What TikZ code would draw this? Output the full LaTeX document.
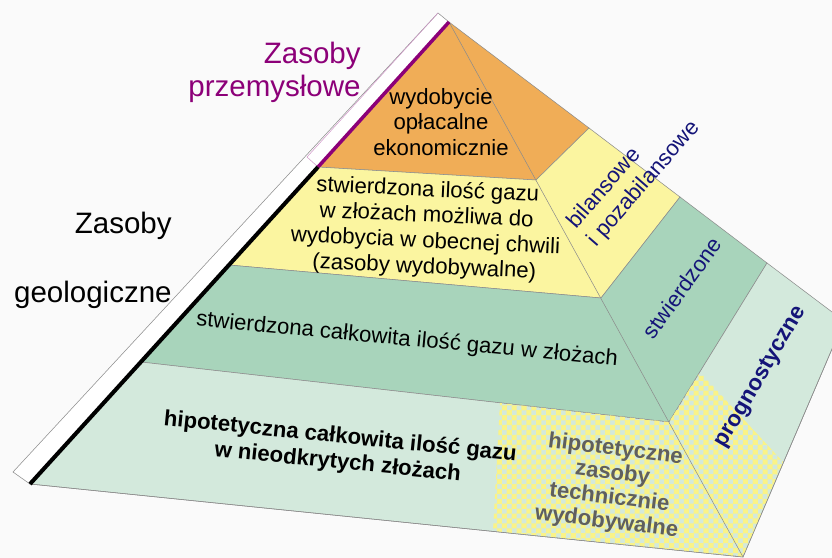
\documentclass[tikz,border=0pt]{standalone}
\usepackage{fontspec}
\setmainfont{Liberation Sans}
\usetikzlibrary{patterns}

\definecolor{pomarancz}{RGB}{240,173,87}
\definecolor{zolty}{RGB}{251,245,160}
\definecolor{zielony}{RGB}{168,212,187}
\definecolor{jasnozielony}{RGB}{211,233,220}
\definecolor{kratka}{RGB}{250,243,135}
\definecolor{fiolet}{RGB}{140,0,120}
\definecolor{granat}{RGB}{20,20,120}
\definecolor{szary}{RGB}{95,95,95}
\definecolor{tlo}{RGB}{250,250,250}

% kratka troche wieksza niz checkerboard
\pgfdeclarepatternformonly{kratki}{\pgfpointorigin}{\pgfqpoint{5.8pt}{5.8pt}}{\pgfqpoint{5.6pt}{5.6pt}}{
  \pgfpathrectangle{\pgfpointorigin}{\pgfqpoint{2.9pt}{2.9pt}}
  \pgfpathrectangle{\pgfqpoint{2.8pt}{2.8pt}}{\pgfqpoint{2.9pt}{2.9pt}}
  \pgfusepath{fill}}

\begin{document}
\begin{tikzpicture}[x=0.02cm, y=-0.02cm,
       krawedz/.style={draw=black!45, line width=.3pt},
       opis/.style={inner sep=0pt, align=center, font=\fontsize{12.6}{14.6}\selectfont},
       tytul/.style={inner sep=0pt, align=right, font=\fontsize{16.8}{18.7}\selectfont}]
       \path[use as bounding box, fill=tlo] (0,0) rectangle (832,558);
       \clip (0,0) rectangle (832,558);

       \coordinate (szczyt) at (449,22);
       \coordinate (lewy) at (30,484);
       \coordinate (dol) at (743,557);
       \coordinate (prawy) at (844,321);
       \coordinate (l1) at (318,167);
       \coordinate (l2) at (229,265);
       \coordinate (l3) at (141,362);
       \coordinate (g1) at (536,180);
       \coordinate (g2) at (601,298);
       \coordinate (g3) at (669,422);
       \coordinate (p1) at (589,128);
       \coordinate (p2) at (680,197);
       \coordinate (p3) at (767,263);

       % pasek z lewej
       \draw[krawedz, fill=white] (438,13) -- (szczyt) -- (lewy) -- (13,472) --cycle;
       \draw[draw=fiolet!40, line width=.3pt] (438,13) -- (307,157) -- (l1);

       % warstwy
       \draw[krawedz, fill=pomarancz] (szczyt) -- (l1) -- (g1) -- (p1) --cycle;
       \draw[krawedz, fill=zolty] (l1) -- (l2) -- (g2) -- (p2) -- (p1) -- (g1) --cycle;
       \draw[krawedz, fill=zielony] (l2) -- (l3) -- (g3) -- (p3) -- (p2) -- (g2) --cycle;
       \draw[krawedz, fill=jasnozielony] (l3) -- (lewy) -- (dol) -- (prawy) -- (p3) -- (g3) --cycle;
       \fill[pattern=kratki, pattern color=kratka] (500,403) -- (g3) -- (dol) -- (493,531) --cycle;
       \fill[pattern=kratki, pattern color=kratka] (g3) -- (700,372) -- (783,462) -- (dol) --cycle;
       \draw[krawedz] (szczyt) -- (dol);
       \draw[krawedz] (lewy) -- (dol) -- (prawy);

       \draw[line width=2pt, fiolet] (szczyt) -- (l1);
       \draw[line width=2.3pt, black] (l1) -- (lewy);

       \node[tytul, text=fiolet, anchor=east] (przem) at (361,72) {Zasoby\\przemysłowe};
       \node[tytul, anchor=east] (zasoby) at (172,226) {Zasoby};
       \node[tytul, anchor=east] (geol) at (172,295) {geologiczne};

       \node[opis] (wydob) at (441,122) {wydobycie\\opłacalne\\ekonomicznie};
       \node[opis, rotate=-2.6] (stw1) at (426,229)
       {stwierdzona ilość gazu\\w złożach możliwa do\\wydobycia w obecnej chwili\\(zasoby wydobywalne)};
       \node[opis, rotate=-5.4] (stw2) at (407,340) {stwierdzona całkowita ilość gazu w złożach};
       \node[opis, rotate=-5.8, font=\fontsize{12.6}{14.6}\selectfont\bfseries] (hipo) at (339,450)
       {hipotetyczna całkowita ilość gazu\\w nieodkrytych złożach};
       \node[opis, rotate=-7, text=szary, font=\fontsize{12.6}{13.9}\selectfont\bfseries] (tech) at (611,486)
       {hipotetyczne\\zasoby\\technicznie\\wydobywalne};

       \node[opis, align=left, rotate=49, text=granat, font=\fontsize{12.6}{15.3}\selectfont] (bil) at (634,175)
       {bilansowe\\i pozabilansowe};
       \node[opis, rotate=54, text=granat] (stwz) at (682,288) {stwierdzone};
       \node[opis, rotate=59.6, text=granat, font=\fontsize{12.8}{14.6}\selectfont\bfseries] (prog) at (761,377) {prognostyczne};
\end{tikzpicture}
\end{document}
